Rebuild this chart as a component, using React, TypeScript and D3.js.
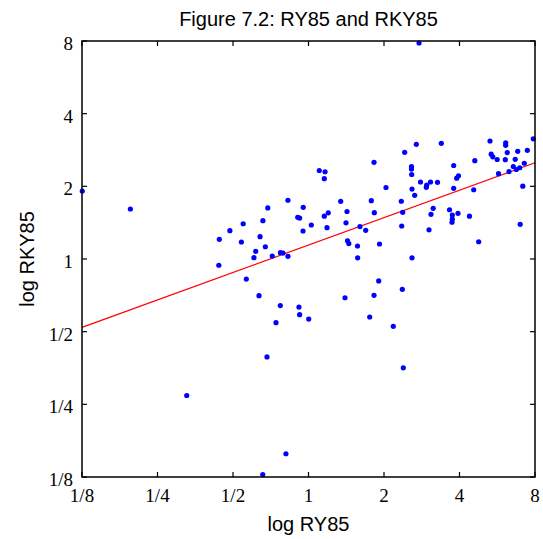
import React from "react";
import * as d3 from "d3";

const ry85: number[] = [
  0.1253, 0.1949, 0.828, 0.688, 0.953, 0.549, 0.658, 0.486, 0.441, 0.54,
  0.641, 0.673, 0.616, 0.906, 0.922, 0.951, 1.026, 0.773, 0.791, 0.606,
  0.717, 0.828, 0.439, 0.565, 0.635, 0.772, 0.916, 0.922, 1.002, 0.742,
  0.683, 0.327, 0.813, 0.657,
  2.759, 2.691, 2.418, 1.825, 1.104, 1.164, 1.156, 2.574, 2.574, 2.579,
  2.796, 2.96, 2.949, 3.065, 3.269, 2.037, 2.586, 2.651, 1.344, 1.78,
  2.344, 1.424, 1.83, 2.375, 1.199, 1.156, 1.411, 1.604, 2.353, 1.185,
  1.691, 1.431, 1.448, 1.568, 1.919, 1.57, 2.586, 3.023, 3.079, 3.142,
  1.905, 1.398, 1.825, 2.366, 1.754, 2.178, 2.388,
  3.385, 5.293, 6.113, 6.113, 7.874, 5.351, 5.43, 5.654, 6.203, 6.826,
  7.455, 6.091, 6.671, 4.604, 3.792, 7.252, 6.556, 6.738, 6.951, 6.302,
  5.723, 3.964, 3.898, 3.792, 7.152, 4.557, 3.65, 3.745, 3.745, 3.734,
  3.945, 4.383, 6.983, 4.77,
];

const rky85: number[] = [
  1.913, 1.611, 1.751, 1.627, 1.637, 1.4, 1.441, 1.31, 1.207, 1.176,
  1.237, 1.124, 1.076, 1.488, 1.478, 1.306, 1.383, 1.062, 1.058, 1.013,
  1.029, 1.026, 0.942, 0.826, 0.705, 0.641, 0.632, 0.588, 0.564, 0.545,
  0.393, 0.272, 0.156, 0.128,
  7.847, 2.986, 2.767, 2.515, 2.326, 2.299, 2.151, 2.412, 2.359, 2.239,
  2.084, 2.025, 1.982, 2.084, 2.078, 1.978, 1.949, 1.836, 1.734, 1.744,
  1.735, 1.573, 1.555, 1.561, 1.554, 1.504, 1.412, 1.363, 1.37, 1.348,
  1.315, 1.189, 1.159, 1.132, 1.154, 1.011, 1.011, 1.321, 1.532, 1.622,
  0.811, 0.691, 0.707, 0.749, 0.575, 0.526, 0.354,
  3.015, 3.082, 3.031, 2.957, 3.147, 2.717, 2.65, 2.583, 2.761, 2.793,
  2.82, 2.578, 2.588, 2.554, 2.44, 2.493, 2.416, 2.348, 2.388, 2.303,
  2.256, 2.211, 2.161, 1.963, 2.003, 1.936, 1.6, 1.521, 1.462, 1.42,
  1.546, 1.504, 1.392, 1.179,
];

const fitX: number[] = [0.125, 8];
const fitY: number[] = [0.521, 2.505];

const tickValues: number[] = [0.125, 0.25, 0.5, 1, 2, 4, 8];
const tickLabels: string[] = ["1/8", "1/4", "1/2", "1", "2", "4", "8"];

const titleText = "Figure 7.2: RY85 and RKY85";
const xLabel = "log RY85";
const yLabel = "log RKY85";

export default function App() {
  const W = 543;
  const H = 539;
  const left = 82;
  const right = 535;
  const top = 41;
  const bottom = 477;

  const x = d3.scaleLog().base(2).domain([0.125, 8]).range([left, right]);
  const y = d3.scaleLog().base(2).domain([0.125, 8]).range([bottom, top]);

  const lineGen = d3
    .line<number>()
    .x((_, i) => x(fitX[i]))
    .y((d) => y(d));

  const serif = "'Liberation Serif', 'Times New Roman', serif";
  const sans = "'Liberation Sans', Arial, sans-serif";
  const tl = 5;

  return (
    <svg
      width={W}
      height={H}
      style={{ position: "absolute", left: 0, top: 0, background: "#fff" }}
    >
      <rect x={0} y={0} width={W} height={H} fill="#fff" />
      <text
        x={(left + right) / 2}
        y={26}
        textAnchor="middle"
        fontFamily={sans}
        fontSize={20}
        fill="#000"
      >
        {titleText}
      </text>

      <path d={lineGen(fitY) || ""} stroke="#ff0000" strokeWidth={1.2} fill="none" />

      {ry85.map((v, i) => (
        <circle key={i} cx={x(v)} cy={y(rky85[i])} r={2.6} fill="#0000ff" />
      ))}

      <rect
        x={left}
        y={top}
        width={right - left}
        height={bottom - top}
        fill="none"
        stroke="#000"
        strokeWidth={1.5}
      />

      {tickValues.map((t, i) => (
        <g key={"xt" + i}>
          <line x1={x(t)} x2={x(t)} y1={bottom} y2={bottom - tl} stroke="#000" strokeWidth={1.2} />
          <line x1={x(t)} x2={x(t)} y1={top} y2={top + tl} stroke="#000" strokeWidth={1.2} />
          <text
            x={x(t)}
            y={502}
            textAnchor="middle"
            fontFamily={serif}
            fontSize={19}
            fill="#000"
          >
            {tickLabels[i]}
          </text>
        </g>
      ))}

      {tickValues.map((t, i) => (
        <g key={"yt" + i}>
          <line x1={left} x2={left + tl} y1={y(t)} y2={y(t)} stroke="#000" strokeWidth={1.2} />
          <line x1={right} x2={right - tl} y1={y(t)} y2={y(t)} stroke="#000" strokeWidth={1.2} />
          <text
            x={73}
            y={y(t)}
            dy="0.47em"
            textAnchor="end"
            fontFamily={serif}
            fontSize={19}
            fill="#000"
          >
            {tickLabels[i]}
          </text>
        </g>
      ))}

      <text
        x={(left + right) / 2}
        y={531}
        textAnchor="middle"
        fontFamily={sans}
        fontSize={20}
        fill="#000"
      >
        {xLabel}
      </text>
      <text
        transform={`translate(34,${(top + bottom) / 2}) rotate(-90)`}
        textAnchor="middle"
        fontFamily={sans}
        fontSize={20}
        fill="#000"
      >
        {yLabel}
      </text>
    </svg>
  );
}
